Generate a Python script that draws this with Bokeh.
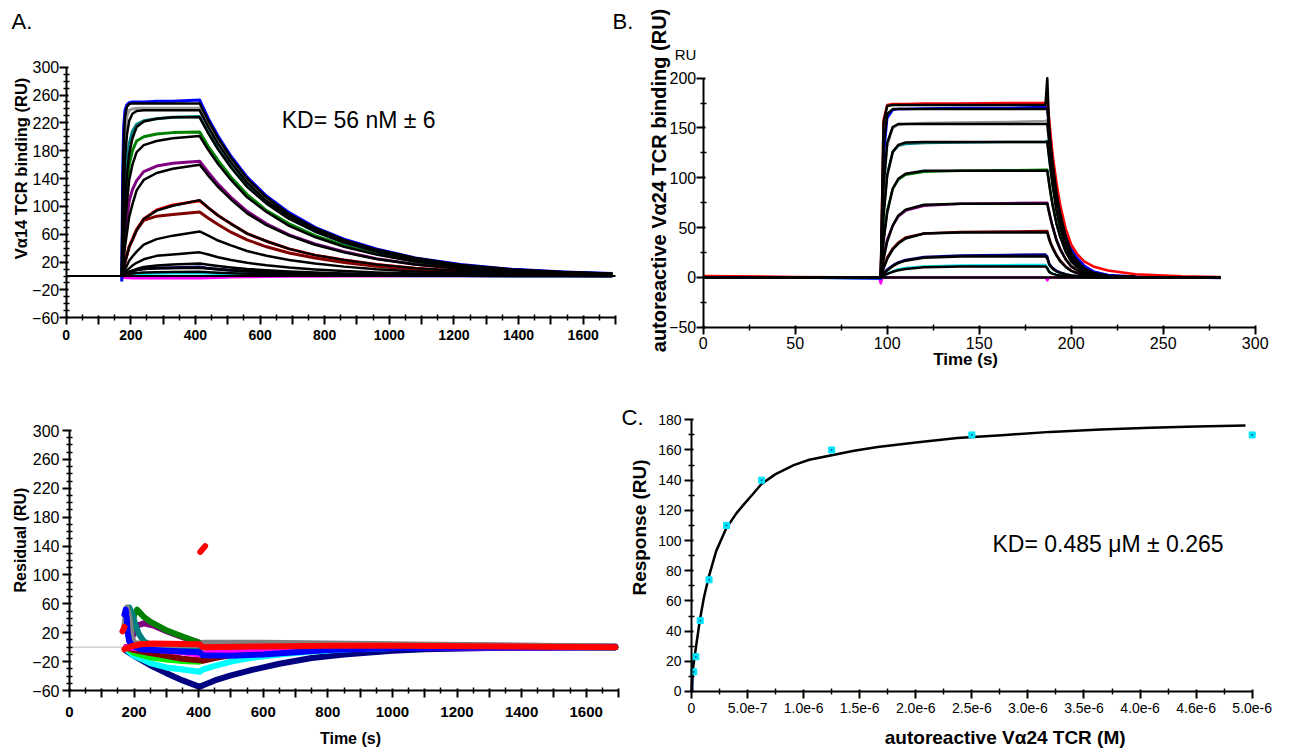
import math
from bokeh.plotting import figure
from bokeh.layouts import column, row
from bokeh.models import FixedTicker, Label, Range1d
from bokeh.embed import file_html
from bokeh.resources import INLINE

FONT = "Liberation Sans"

# ---------------- Panel A : V-alpha14 sensorgram ----------------
A_T = [172, 175, 178, 182, 188, 195, 205, 218, 240, 280, 330, 413,
       440, 470, 510, 560, 620, 690, 770, 860, 960, 1080, 1220, 1380, 1540, 1690]
A_FIT1 = [0, 131, 193, 228, 243, 247, 248, 248, 248, 248, 248, 248, 223, 198, 170, 140, 113, 89, 69, 52, 38, 26, 16, 9.4, 5.6, 3.4]
A_FIT2 = [0, 72, 122, 167, 203, 223, 233, 237, 238, 238, 238, 238, 214, 190, 163, 134, 108, 86, 66, 50, 36, 24.5, 15.5, 9, 5.4, 3.3]
A_FIT3 = [0, 38, 72, 108, 145, 175, 198, 214, 222, 226, 228, 228, 205, 182, 156, 128, 104, 82, 64, 48, 35, 23.5, 14.8, 8.7, 5.2, 3.1]
A_FIT4 = [0, 22, 44, 72, 105, 138, 160, 178, 188, 194, 198, 201, 181, 161, 138, 113, 92, 72, 56, 42, 31, 20.7, 13, 7.6, 4.5, 2.8]
A_FIT5 = [0, 12, 25, 42, 62, 85, 103, 123, 138, 148, 154, 160, 144, 128, 110, 90, 73, 58, 45, 34, 24.5, 16.5, 10.4, 6.1, 3.6, 2.2]
A_FIT6 = [0, 6, 12, 20, 30, 42, 52, 66, 82, 94, 101, 109, 98, 87, 75, 61, 50, 39, 30, 23, 16.7, 11.2, 7.1, 4.1, 2.5, 1.5]
A_FIT7 = [0, 3, 6, 10, 15, 22, 28, 35, 45, 53, 58, 64, 58, 51, 44, 36, 29, 23, 17.9, 13.5, 9.8, 6.6, 4.2, 2.4, 1.4, 0.9]
A_FIT8 = [0, 1.5, 3, 5, 8, 11, 15, 19, 24, 29, 31, 34, 31, 27, 23, 19, 15.5, 12.2, 9.5, 7.2, 5.2, 3.5, 2.2, 1.3, 0.8, 0.5]
A_FIT9 = [0, 1, 2, 3, 4.5, 6, 8, 10, 13, 15, 16.5, 18, 16.2, 14.4, 12.3, 10.1, 8.2, 6.5, 5, 3.8, 2.8, 1.9, 1.2, 0.7, 0.4, 0.25]
A_FIT10 = [0, 1, 2, 3, 4, 5.5, 7, 8.5, 10, 11, 11.5, 12, 10.8, 9.6, 8.2, 6.8, 5.5, 4.3, 3.3, 2.5, 1.8, 1.2, 0.8, 0.5, 0.3, 0.2]
A_FIT11 = [0, 0.5, 1, 1.5, 2, 3, 3.5, 4.5, 5, 5.5, 5.8, 6, 5.4, 4.8, 4.1, 3.4, 2.7, 2.2, 1.7, 1.3, 0.9, 0.6, 0.4, 0.2, 0.1, 0.1]

A_BLUE = [-8, 150, 215, 238, 246, 249, 250, 250, 250, 251, 251, 253, 226, 201, 172, 142, 115, 91, 70, 53, 39, 26, 16.5, 9.6, 5.7, 3.5]
A_GRAY = [0, 95, 160, 205, 230, 238, 240, 241, 241, 241, 241, 241, 217, 193, 165, 136, 110, 87, 67, 51, 37, 25, 15.7, 9.2, 5.4, 3.3]
A_TEAL = [0, 45, 85, 125, 165, 190, 208, 218, 223, 226, 228, 229, 206, 183, 157, 129, 105, 83, 64, 48, 35, 23.5, 14.8, 8.7, 5.2, 3.1]
A_GREEN = [0, 30, 58, 90, 125, 160, 180, 194, 200, 204, 206, 207, 186, 166, 142, 117, 94, 75, 58, 44, 32, 21, 13.5, 7.9, 4.7, 2.9]
A_PURPLE = [0, 18, 36, 58, 82, 108, 124, 137, 150, 158, 162, 165, 149, 132, 113, 93, 75, 59, 46, 35, 25, 17, 10.7, 6.3, 3.7, 2.3]
A_RED = [-3, 6, 12, 20, 31, 42, 53, 67, 82, 95, 102, 108, 98, 87, 75, 61, 50, 39, 30, 23, 16.7, 11.2, 7.1, 4.1, 2.5, 1.5]
A_DARKRED = [0, 6, 12, 20, 30, 42, 52, 66, 80, 86, 88.5, 92, 83, 74, 63, 52, 42, 33, 26, 19.4, 14, 9.5, 6, 3.5, 2.1, 1.3]
A_NAVY = [0, 1, 2, 3, 4, 5.5, 7, 9, 10.5, 11.5, 12, 13, 11, 9.8, 8.4, 7, 5.6, 4.4, 3.4, 2.6, 1.8, 1.2, 0.8, 0.5, 0.3, 0.2]
A_CYAN = [0, 0.5, 1, 1.5, 2, 2.5, 3, 3.5, 3.8, 4, 4.2, 4.5, 4, 3.6, 3, 2.5, 2, 1.6, 1.2, 0.9, 0.6, 0.4, 0.3, 0.2, 0.1, 0]
A_MAGENTA = [0, -1, -2, -2, -2.5, -2.5, -3, -3, -3, -3, -3, -3, -2.5, -2, -1.5, -1, -0.8, -0.5, -0.3, 0, 0, 0, 0, 0, 0, 0]
A_BASE_T = [0, 1700]
A_BASE = [0, 0]

A_XTICKS = [0, 100, 200, 300, 400, 500, 600, 700, 800, 900, 1000, 1100, 1200, 1300, 1400, 1500, 1600, 1700]
A_XLABELS = ["0", "", "200", "", "400", "", "600", "", "800", "", "1000", "", "1200", "", "1400", "", "1600", ""]
A_XMINOR = [50, 150, 250, 350, 450, 550, 650, 750, 850, 950, 1050, 1150, 1250, 1350, 1450, 1550, 1650]
A_YTICKS = [-60, -20, 20, 60, 100, 140, 180, 220, 260, 300]
A_YMINOR = [-50, -40, -30, -10, 0, 10, 30, 40, 50, 70, 80, 90, 110, 120, 130, 150, 160, 170,
            190, 200, 210, 230, 240, 250, 270, 280, 290]

# ---------------- Panel B : V-alpha24 sensorgram ----------------
B_T = [0, 50, 96.5, 98, 100, 103, 106, 110, 120, 140, 165, 186, 187, 188, 189, 190,
       192, 194, 197, 200, 203, 207, 212, 220, 235, 260, 281]
B_FIT1 = [0, 0, 0, 155, 172, 173, 173, 173, 173, 173, 173, 173, 200, 150, 120, 100, 68, 50, 32, 20, 12, 5, 2, 0.8, 0.2, 0, 0]
B_FIT2 = [0, 0, 0, 132, 164, 169, 169, 169, 169, 169, 169, 169, 169, 149, 130, 113, 85, 64, 41, 25, 17, 9.3, 4.6, 1.7, 0.3, 0, 0]
B_FIT3 = [0, 0, 0, 91, 135, 151, 154, 154, 154, 154, 154, 154, 154, 136, 119, 103, 77, 58, 37, 23, 15.4, 8.5, 4.2, 1.5, 0.3, 0, 0]
B_FIT4 = [0, 0, 0, 61, 102, 126, 133, 135.5, 136, 136, 136, 136, 136, 120, 105, 91, 68, 52, 33, 20, 13.6, 7.5, 3.7, 1.4, 0.3, 0, 0]
B_FIT5 = [0, 0, 0, 36, 65, 89, 99, 104, 107, 107, 107, 107, 107, 94, 82, 72, 54, 41, 26, 16, 10.7, 5.9, 2.9, 1.1, 0.2, 0, 0]
B_FIT6 = [0, 0, 0, 18, 36, 52, 62, 68, 73, 74, 74, 74, 74, 65, 57, 50, 37, 28, 18, 11, 7.4, 4, 2, 0.7, 0.1, 0, 0]
B_FIT7 = [0, 0, 0, 9, 18.5, 28, 34, 39, 44, 45, 45, 45, 45, 38, 33, 29, 22, 16, 10.5, 6.5, 4.3, 2.4, 1.2, 0.4, 0.1, 0, 0]
B_FIT8 = [0, 0, 0, 3.4, 7, 11.3, 14.3, 16.8, 19.7, 20.9, 21, 21, 19, 13, 10.5, 8.5, 6, 4.5, 2.9, 1.8, 1.2, 0.6, 0.3, 0.1, 0, 0, 0]
B_FIT9 = [0, 0, 0, 1.7, 3.5, 5.6, 7.2, 8.5, 10.1, 10.9, 11, 11, 9, 5.5, 4.3, 3.5, 2.5, 1.8, 1.1, 0.7, 0.4, 0.2, 0.1, 0, 0, 0, 0]

B_RED = [1.5, 0.5, 0, 158, 173, 174, 174, 174, 174.5, 174.5, 175, 175, 176, 160, 140, 122, 95, 73, 49, 33, 24, 16, 11, 7, 3.2, 1.2, 0.5]
B_BLUE = [0.5, 0, -1, 120, 160, 168, 169, 169, 169.5, 170, 170, 171, 171, 152, 134, 117, 90, 70, 46, 29, 20, 12, 6, 2.5, 0.8, 0.2, -0.5]
B_GRAY = [0, 0, 0, 85, 132, 150, 153, 154, 155, 155.5, 156, 157, 158, 140, 123, 107, 80, 61, 39, 24, 16, 9, 4.5, 1.7, 0.4, 0, 0]
B_TEAL = [0, 0, 0, 66, 104, 126, 132, 134, 135, 135.5, 136, 136, 137, 121, 106, 92, 69, 52, 33, 21, 14, 7.6, 3.7, 1.4, 0.3, 0, 0]
B_GREEN = [0, 0, 0, 40, 67, 89, 98, 103, 106, 107, 107.5, 108, 108, 95, 83, 72, 54, 41, 26, 16, 10.7, 6, 3, 1.1, 0.2, 0, 0]
B_PURPLE = [0, 0, 0, 22, 38, 52, 61, 67, 72, 74, 74.5, 75, 75, 66, 58, 51, 38, 29, 18.5, 11.3, 7.5, 4.1, 2, 0.7, 0.1, 0, 0]
B_DARKRED = [0, 0, 0, 10, 20, 29, 35, 40, 44, 45.5, 46, 46.5, 46.5, 40, 34, 30, 22.5, 17, 11, 6.8, 4.5, 2.5, 1.2, 0.4, 0.1, 0, 0]
B_NAVY = [0, 0, 0, 4, 8, 12, 15, 17.5, 20.5, 22, 22.5, 23, 21, 14, 11.5, 9.3, 6.6, 5, 3.2, 2, 1.3, 0.7, 0.3, 0.1, 0, 0, 0]
B_CYAN = [0, 0, -1, 1, 3.5, 6, 8, 9.5, 11, 12, 12.3, 12.5, 10, 6, 4.7, 3.8, 2.7, 2, 1.2, 0.8, 0.5, 0.2, 0.1, 0, 0, 0, 0]
B_MAGENTA_T = [0, 95.5, 96.5, 97.5, 100, 186, 187, 188, 281]
B_MAGENTA = [0, 0, -6, 0, 0, 0, -3, 0, 0]
B_BASE_T = [0, 281]
B_BASE = [0, 0]

B_XTICKS = [0, 50, 100, 150, 200, 250, 300]
B_XMINOR = [25, 75, 125, 175, 225, 275]
B_YTICKS = [-50, 0, 50, 100, 150, 200]
B_YMINOR = [-25, 25, 75, 125, 175]

# ---------------- Residual panel ----------------
R_NAVY_T = [175, 200, 250, 300, 350, 403, 412, 450, 500, 560, 650, 750, 850, 1000, 1100, 1300, 1690]
R_NAVY = [-5, -12, -25, -36, -46, -55, -53, -46, -39, -32, -23, -15, -10, -5, -3, -1, 0]
R_CYAN_T = [175, 200, 250, 300, 350, 403, 412, 450, 500, 560, 650, 750, 900, 1100, 1690]
R_CYAN = [-3, -12, -22, -28, -31, -34, -31, -26, -20, -15, -10, -6, -2, 0, 0]
R_LIME_T = [175, 200, 250, 300, 350, 403, 412, 450, 500, 600, 700, 900, 1690]
R_LIME = [0, -8, -14, -17, -19, -20, -17, -12, -8, -3, -1, 0, 0]
R_DARKRED_T = [175, 200, 250, 300, 350, 403, 412, 450, 500, 600, 700, 900, 1100, 1690]
R_DARKRED = [0, -4, -8, -12, -16, -18, -19, -15, -11, -6, -3, -1, 0, 0]
R_MAGENTA_T = [175, 250, 350, 403, 412, 450, 550, 700, 1690]
R_MAGENTA = [0, -3, -7, -10, -9, -6, -3, -1, 0]
R_PURPLE_T = [190, 210, 230, 260, 300, 350, 403, 412, 600, 1000, 1690]
R_PURPLE = [10, 30, 33, 30, 22, 14, 6, 5, 5, 3, 1]
R_DKGREEN_T = [190, 200, 209, 230, 251, 302, 354, 403, 412, 600, 1000, 1690]
R_DKGREEN = [20, 45, 52, 42, 35, 23, 14, 6, 3, 4, 3, 0]
R_TEAL_T = [175, 185, 195, 205, 215, 230, 260, 300, 403, 412, 600, 1000, 1690]
R_TEAL = [30, 55, 45, 30, 18, 8, 2, 0, -2, 0, 2, 2, 0]
R_GRAY_T = [170, 178, 186, 192, 200, 250, 403, 412, 600, 1000, 1690]
R_GRAY = [30, 55, 40, 15, 6, 3, 3, 6, 6, 4, 1]
R_BLUE_T = [170, 174, 177, 180, 185, 195, 220, 300, 403, 412, 500, 600, 700, 800, 1000, 1690]
R_BLUE = [45, 52, 40, 20, 8, 2, -3, -5, -7, -11, -12, -10, -7, -4, -1, 0]
R_RED_T = [170, 190, 220, 260, 403, 412, 600, 800, 1000, 1690]
R_RED = [-3, 1, 4, 5, 4, 0, 1, 2, 2, 0]
R_RED_OUT1_T = [405, 420]
R_RED_OUT1 = [132, 140]
R_RED_OUT2_T = [164, 170]
R_RED_OUT2 = [22, 28]
R_ZERO_T = [0, 1700]
R_ZERO = [0, 0]

# ---------------- Panel C : steady-state fit ----------------
C_CONC = [1.95e-8, 3.9e-8, 7.8e-8, 1.5625e-7, 3.125e-7, 6.25e-7, 1.25e-6, 2.5e-6, 5.0e-6]
C_RESP = [13, 23, 47, 74, 110, 140, 160, 170, 170]
C_FIT_X = [0, 5e-9, 1.5e-8, 3.9e-8, 7.4e-8, 1.1e-7, 1.54e-7, 2.2e-7, 3.09e-7, 4.0e-7, 4.67e-7,
           5.5e-7, 6.24e-7, 7.5e-7, 9.12e-7, 1.05e-6, 1.25e-6, 1.45e-6, 1.66e-6, 2.0e-6,
           2.37e-6, 2.8e-6, 3.2e-6, 3.65e-6, 4.09e-6, 4.5e-6, 4.94e-6]
C_FIT_Y = [0, 7, 16, 29, 47, 62, 76, 93, 108, 118, 124, 131, 137.5, 144, 150, 153.5, 156.5,
           159.5, 162, 165, 168, 170, 172, 173.5, 174.7, 175.5, 176.3]
C_BLUE_X = [8e-9, 8e-9]
C_BLUE_Y = [0, 19]
C_XTICKS = [0, 5.0e-7, 1.0e-6, 1.5e-6, 2.0e-6, 2.5e-6, 3.0e-6, 3.5e-6, 4.0e-6, 4.5e-6, 5.0e-6]
C_XLABELS = ["0", "5.0e-7", "1.0e-6", "1.5e-6", "2.0e-6", "2.5e-6", "3.0e-6", "3.5e-6", "4.0e-6", "4.6e-6", "5.0e-6"]
C_XMINOR = [2.5e-7, 7.5e-7, 1.25e-6, 1.75e-6, 2.25e-6, 2.75e-6, 3.25e-6, 3.75e-6, 4.25e-6, 4.75e-6]
C_YTICKS = [0, 20, 40, 60, 80, 100, 120, 140, 160, 180]
C_YMINOR = [10, 30, 50, 70, 90, 110, 130, 150, 170]


def make_fig(w, h, xr, yr):
    # the frame fills the whole canvas; axes are pinned inside it
    p = figure(width=w, height=h, x_range=Range1d(*xr), y_range=Range1d(*yr),
               output_backend="svg", toolbar_location=None,
               min_border_left=0, min_border_right=0, min_border_top=0, min_border_bottom=0)
    p.frame_align = False
    p.title.visible = False
    p.grid.visible = False
    p.outline_line_color = None
    p.background_fill_color = "white"
    p.border_fill_color = "white"
    return p


def style_axis(ax, ticks, minor, bounds, location, labels=None, size="16px", bold=False, standoff=0):
    ax.ticker = FixedTicker(ticks=ticks, minor_ticks=minor)
    ax.bounds = bounds
    ax.fixed_location = location
    ax.axis_line_color = "black"
    ax.axis_line_width = 2
    ax.major_tick_line_color = "black"
    ax.major_tick_line_width = 2
    ax.major_tick_out = 7
    ax.major_tick_in = 2
    ax.minor_tick_line_color = "black"
    ax.minor_tick_line_width = 1.5
    ax.minor_tick_out = 3
    ax.minor_tick_in = 3
    ax.major_label_text_font = FONT
    ax.major_label_text_font_size = size
    ax.major_label_text_color = "black"
    ax.major_label_text_font_style = "bold" if bold else "normal"
    ax.major_label_standoff = standoff
    if labels is not None:
        ax.major_label_overrides = dict(zip(ticks, labels))


def label(p, x, y, text, size, bold=False, vertical=False, align="left"):
    p.add_layout(Label(x=x, y=y, text=text, text_font=FONT, text_font_size=size,
                       text_font_style="bold" if bold else "normal", text_color="black",
                       text_baseline="middle", text_align="center" if vertical else align,
                       angle=math.pi / 2 if vertical else 0))


# ---------- Panel A (canvas 640 x 375) ----------
pA = make_fig(640, 375, (-203.3, 1777.4), (-142.9, 395.8))
style_axis(pA.xaxis[0], A_XTICKS, A_XMINOR, (0, 1700), -60, A_XLABELS, size="14px", bold=True, standoff=5)
style_axis(pA.yaxis[0], A_YTICKS, A_YMINOR, (-60, 300), 0, size="16px", standoff=0)
for ys, c in [(A_MAGENTA, "#ff00ff"), (A_CYAN, "#00e5ee"), (A_NAVY, "#000080"),
              (A_DARKRED, "#800000"), (A_RED, "#ff0000"), (A_PURPLE, "#800080"),
              (A_GREEN, "#008000"), (A_TEAL, "#008080"), (A_GRAY, "#999999"),
              (A_BLUE, "#0000ff")]:
    pA.line(A_T, ys, line_color=c, line_width=3, line_join="round")
for ys in [A_FIT11, A_FIT10, A_FIT9, A_FIT8, A_FIT7, A_FIT6, A_FIT5, A_FIT4,
           A_FIT3, A_FIT2, A_FIT1]:
    pA.line(A_T, ys, line_color="black", line_width=2.5, line_join="round")
pA.line(A_BASE_T, A_BASE, line_color="black", line_width=2)
label(pA, -169, 366, "A.", "22px")
label(pA, 1691, 366, "B.", "22px")
label(pA, 667, 224.6, "KD= 56 nM \u00b1 6", "23px")
label(pA, -141.4, 154.5, "V\u03b114 TCR binding (RU)", "16.5px", bold=True, vertical=True)

# ---------- Panel B (canvas 655 x 375) ----------
pB = make_fig(655, 375, (-34.08, 321.9), (-98.5, 278.0))
style_axis(pB.xaxis[0], B_XTICKS, B_XMINOR, (0, 300), -50, size="16px", standoff=3)
style_axis(pB.yaxis[0], B_YTICKS, B_YMINOR, (-50, 200), 0, size="16px", standoff=0)
for xs, ys, c in [(B_MAGENTA_T, B_MAGENTA, "#ff00ff"), (B_T, B_CYAN, "#00e5ee"),
                  (B_T, B_NAVY, "#000080"), (B_T, B_DARKRED, "#800000"),
                  (B_T, B_PURPLE, "#800080"), (B_T, B_GREEN, "#008000"),
                  (B_T, B_TEAL, "#008080"), (B_T, B_GRAY, "#999999"),
                  (B_T, B_BLUE, "#0000ff"), (B_T, B_RED, "#ff0000")]:
    pB.line(xs, ys, line_color=c, line_width=2.5, line_join="round")
for ys in [B_FIT9, B_FIT8, B_FIT7, B_FIT6, B_FIT5, B_FIT4, B_FIT3, B_FIT2, B_FIT1]:
    pB.line(B_T, ys, line_color="black", line_width=2.5, line_join="round")
pB.line(B_BASE_T, B_BASE, line_color="black", line_width=2.5)
label(pB, -15.5, 223.6, "RU", "15px")
label(pB, -24.0, 97.3, "autoreactive V\u03b124 TCR binding (RU)", "20px", bold=True, vertical=True)
label(pB, 142.6, -82.4, "Time (s)", "17px", bold=True, align="center")

# ---------- Residual panel (canvas 620 x 379) ----------
pR = make_fig(620, 379, (-213.7, 1706.2), (-148.6, 376.2))
style_axis(pR.xaxis[0], A_XTICKS, A_XMINOR, (0, 1700), -60, A_XLABELS, size="15px", bold=True, standoff=9)
style_axis(pR.yaxis[0], A_YTICKS, A_YMINOR, (-60, 300), 0, size="16px", standoff=3)
pR.line(R_ZERO_T, R_ZERO, line_color="#d0d0d0", line_width=1.5)
for xs, ys, c in [(R_NAVY_T, R_NAVY, "#000080"), (R_CYAN_T, R_CYAN, "#00ffff"),
                  (R_LIME_T, R_LIME, "#00ee00"), (R_DARKRED_T, R_DARKRED, "#800000"),
                  (R_MAGENTA_T, R_MAGENTA, "#ff00ff"), (R_PURPLE_T, R_PURPLE, "#800080"),
                  (R_DKGREEN_T, R_DKGREEN, "#008000"), (R_TEAL_T, R_TEAL, "#008080"),
                  (R_GRAY_T, R_GRAY, "#808080"), (R_BLUE_T, R_BLUE, "#0000ff"),
                  (R_RED_T, R_RED, "#ff0000"), (R_RED_OUT1_T, R_RED_OUT1, "#ff0000"),
                  (R_RED_OUT2_T, R_RED_OUT2, "#ff0000")]:
    pR.line(xs, ys, line_color=c, line_width=6, line_join="round", line_cap="round")
label(pR, -151.1, 148.4, "Residual (RU)", "16px", bold=True, vertical=True)
label(pR, 870.1, -125.8, "Time (s)", "16px", bold=True, align="center")

# ---------- Panel C (canvas 675 x 379) ----------
pC = make_fig(675, 379, (-6.331e-7, 5.3861e-6), (-41.74, 209.35))
style_axis(pC.xaxis[0], C_XTICKS, C_XMINOR, (0, 5.0e-6), 0, C_XLABELS, size="14px", standoff=5)
style_axis(pC.yaxis[0], C_YTICKS, C_YMINOR, (0, 180), 0, size="14px", standoff=3)
pC.line(C_BLUE_X, C_BLUE_Y, line_color="#4a6fb5", line_width=3)
pC.line(C_FIT_X, C_FIT_Y, line_color="black", line_width=2.5, line_join="round")
pC.scatter(C_CONC, C_RESP, marker="square", size=6, fill_color="#00e5ff", line_color="#00e5ff")
pC.scatter(C_CONC, C_RESP, marker="circle", size=1.8, fill_color="#205070", line_color=None)
label(pC, -6.242e-7, 181.2, "C.", "22px")
label(pC, 2.684e-6, 97.4, "KD= 0.485 \u03bcM \u00b1 0.265", "23px")
label(pC, -4.68e-7, 108.65, "Response (RU)", "19px", bold=True, vertical=True)
label(pC, 2.7974e-6, -30.47, "autoreactive V\u03b124 TCR (M)", "19px", bold=True, align="center")

layout = column(row(pA, pB), row(pR, pC))
open("out.html", "w").write(file_html(layout, INLINE, "SPR binding"))
